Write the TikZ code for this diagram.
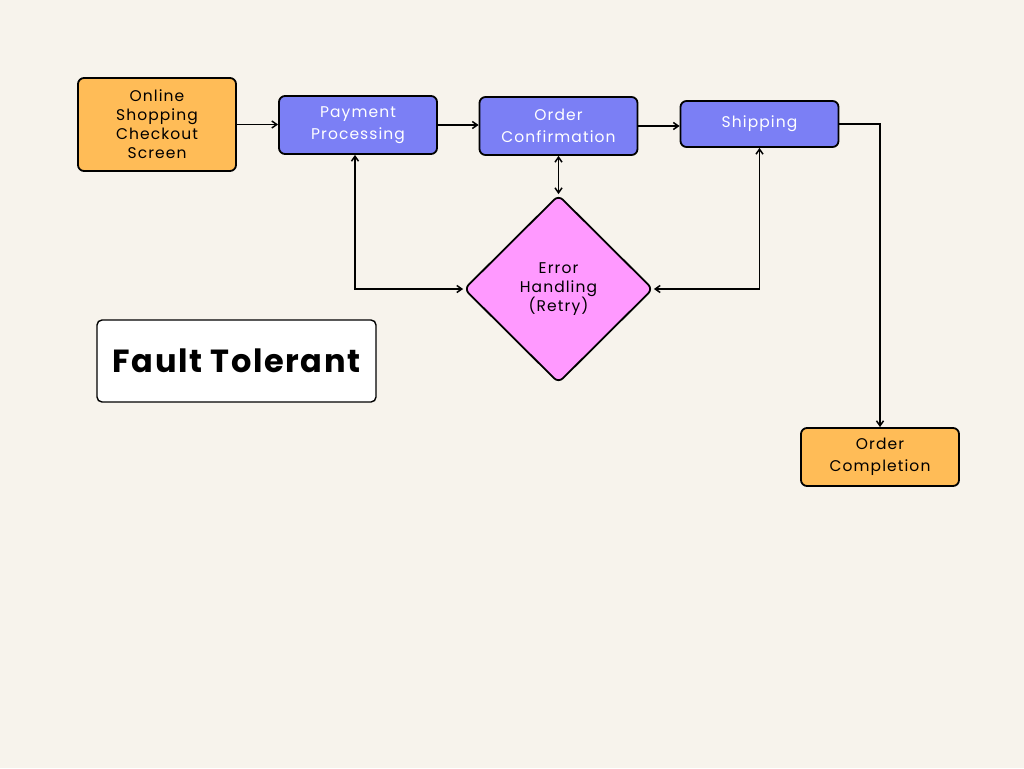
\documentclass[tikz,border=0pt]{standalone}
\usepackage{fontspec}
\setmainfont{Poppins}[LetterSpace=7]
\newfontfamily\titlefont{Poppins}[LetterSpace=5, BoldFont={Poppins Bold}]
\usetikzlibrary{arrows.meta,positioning,shapes.geometric}
\definecolor{bgcream}{RGB}{247,243,236}
\definecolor{boxorange}{RGB}{255,188,87}
\definecolor{boxblue}{RGB}{123,127,245}
\definecolor{boxpink}{RGB}{255,153,255}

\begin{document}
\begin{tikzpicture}[
    x=1pt, y=-1pt,
    font=\fontsize{15.5}{19}\selectfont,
    stepbox/.style={draw=black, line width=1.8pt, rounded corners=6pt, align=center,
        minimum width=158pt, inner sep=2pt},
    startbox/.style={stepbox, fill=boxorange, text=black},
    procbox/.style={stepbox, fill=boxblue, text=white},
    errbox/.style={diamond, draw=black, line width=1.8pt, rounded corners=6pt, fill=boxpink,
        minimum width=189pt, minimum height=188pt, align=center, inner sep=0pt},
    flow/.style={line width=1.5pt, -{Straight Barb[length=5pt,width=7pt]}},
    twoway/.style={line width=1.5pt, {Straight Barb[length=5pt,width=7pt]}-{Straight Barb[length=5pt,width=7pt]}}
]

% Background
\useasboundingbox[fill=bgcream] (0,0) rectangle (1024,768);

% Main flow
\node[startbox, minimum height=93pt] (checkout) at (157,124.5) {Online\\Shopping\\Checkout\\Screen};
\node[procbox, minimum height=58pt] (payment) at (358,125) {Payment\\[3pt]Processing};
\node[procbox, minimum height=58pt] (confirm) at (558.5,126) {Order\\[3pt]Confirmation};
\node[procbox, minimum height=46pt] (shipping) at (759.5,124) {Shipping};
\node[startbox, minimum height=58pt] (complete) at (880,457) {Order\\[3pt]Completion};

% Error handling
\node[errbox] (retry) at (558.5,289) {Error\\Handling\\(Retry)};

% Title
\node[draw=black, line width=1.4pt, rounded corners=5pt, fill=white,
    minimum width=279pt, minimum height=82pt, font=\titlefont\bfseries\fontsize{32}{38}\selectfont]
    (title) at (236.5,361) {Fault Tolerant};

% Connectors
\draw[flow] (checkout.east) -- (checkout.east -| payment.west);
\draw[flow] (payment.east) -- (payment.east -| confirm.west);
\draw[flow] (confirm.east) -- (confirm.east -| shipping.west);
\draw[twoway] (confirm.south) -- (retry.north);
\draw[twoway] ([xshift=-3pt]payment.south) |- (retry.west);
\draw[twoway] (retry.east) -| (shipping.south);
\draw[flow] (shipping.east) -| (complete.north);

\end{tikzpicture}
\end{document}
